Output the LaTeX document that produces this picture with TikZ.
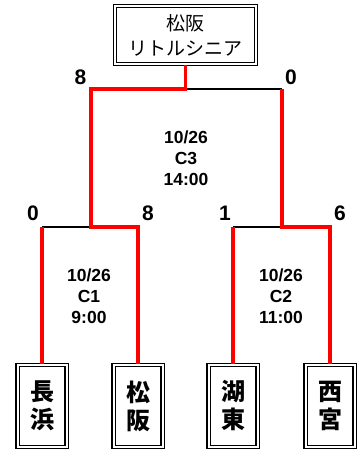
\documentclass[tikz,border=0pt]{standalone}
\usepackage{fontspec}
\setmainfont{Liberation Sans}
\newfontfamily\jp{Noto Sans CJK JP}
\begin{document}
\begin{tikzpicture}[x=1pt,y=-1pt,
  dbox/.style={draw=black, line width=1.3pt, double=white, double distance=2pt, inner sep=0pt, align=center},
  topbox/.style={dbox, minimum width=141pt, minimum height=58pt, font=\jp\fontsize{19}{25}\selectfont},
  team/.style={dbox, minimum width=49pt, minimum height=82pt, font=\jp\bfseries\fontsize{24}{28}\selectfont},
  win/.style={draw=red, line width=3.5pt},
  lose/.style={draw=black, line width=1.8pt},
  score/.style={font=\bfseries\fontsize{21}{22}\selectfont, inner sep=0pt},
  info/.style={font=\bfseries\fontsize{17.5}{21}\selectfont, align=center, inner sep=0pt}]
\useasboundingbox (0,0) rectangle (359,450);
\node[topbox] (top) at (185.5,35) {松阪\\リトルシニア};
\node[team] (b1) at (42,406) {長\\浜};
\node[team] (b2) at (138,406) {松\\阪};
\node[team] (b3) at (233,406) {湖\\東};
\node[team] (b4) at (330,406) {西\\宮};
\coordinate (c3L) at (91,89);
\coordinate (c3R) at (282,89);
\coordinate (c1) at (91,227);
\coordinate (c2) at (282,227);
\draw[lose] (top.south |- c3L) -- (c3R);
\draw[lose] (b1.north |- c1) -- (c1);
\draw[lose] (b3.north |- c2) -- (c2);
\draw[win] (top.south) |- (c3L) -- (c1) -| (b2.north);
\draw[win] (b1.north) -- (b1.north |- c1);
\draw[win] (c3R) -- (c2) -| (b4.north);
\draw[win] (b3.north) -- (b3.north |- c2);
\node[score] (s1) at (80.5,77) {8};
\node[score] (s2) at (291,77) {0};
\node[score] (s3) at (33,213) {0};
\node[score] (s4) at (148,213) {8};
\node[score] (s5) at (225,213) {1};
\node[score] (s6) at (340,213) {6};
\node[info] (m3) at (186,158) {10/26\\C3\\14:00};
\node[info] (m1) at (89,296) {10/26\\C1\\9:00};
\node[info] (m2) at (281,296) {10/26\\C2\\11:00};
\end{tikzpicture}
\end{document}
